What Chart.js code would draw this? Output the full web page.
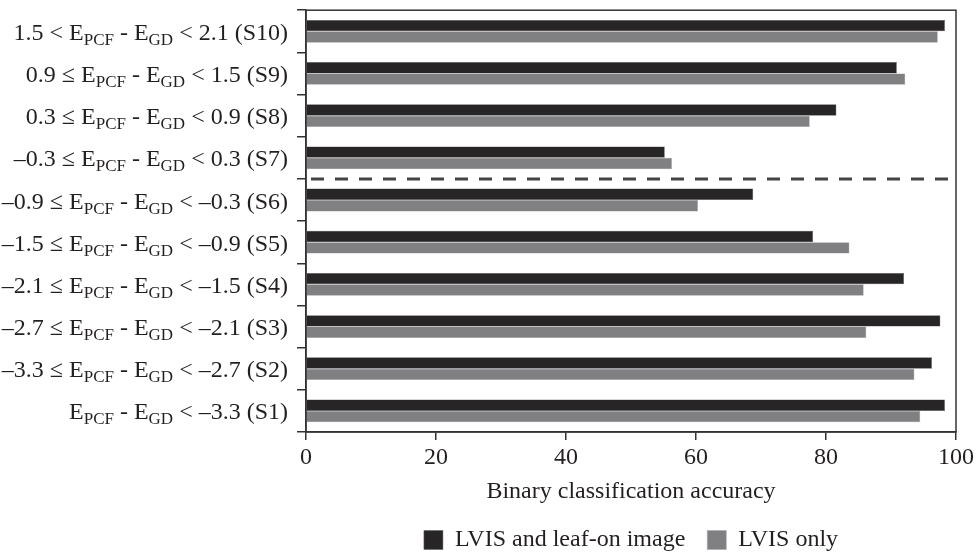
<!DOCTYPE html>
<html>
<head>
<meta charset="utf-8">
<script src="https://cdn.jsdelivr.net/npm/chart.js@4"></script>
<style>
  html, body { margin: 0; padding: 0; background: #fff; }
  #wrap { width: 977px; height: 556px; }
</style>
</head>
<body>
<div id="wrap"><canvas id="accuracyChart"></canvas></div>
<script>
// classes, top to bottom
const classCodes = ['S10', 'S9', 'S8', 'S7', 'S6', 'S5', 'S4', 'S3', 'S2', 'S1'];
const lowerBounds = ['1.5 <', '0.9 ≤', '0.3 ≤', '–0.3 ≤', '–0.9 ≤', '–1.5 ≤', '–2.1 ≤', '–2.7 ≤', '–3.3 ≤', ''];
const upperBounds = ['< 2.1', '< 1.5', '< 0.9', '< 0.3', '< –0.3', '< –0.9', '< –1.5', '< –2.1', '< –2.7', '< –3.3'];

const leafOnValues = [98.3, 90.9, 81.6, 55.2, 68.8, 78.0, 92.0, 97.6, 96.3, 98.3];
const lvisOnlyValues = [97.2, 92.2, 77.5, 56.3, 60.3, 83.6, 85.8, 86.2, 93.6, 94.5];

const xTicks = [0, 20, 40, 60, 80, 100];

const serif = '"Liberation Serif", "DejaVu Serif", serif';
const ink = '#231f20';

const fullLabels = classCodes.map((code, i) =>
  `${lowerBounds[i] ? lowerBounds[i] + ' ' : ''}EPCF - EGD ${upperBounds[i]} (${code})`);

// legend keeps its wide item gap but takes less height
const legendTrim = {
  id: 'legendTrim',
  beforeUpdate(chart) {
    const legend = chart.legend;
    if (!legend || legend._trimmed) return;
    const fit = legend.fit;
    legend.fit = function () {
      fit.call(this);
      this.height -= 6;
    };
    legend._trimmed = true;
  }
};

// draws the y labels with subscripts, the dashed divider and the frame
const figureExtras = {
  id: 'figureExtras',
  afterDraw(chart) {
    const { ctx, chartArea, scales } = chart;
    const yScale = scales.y;

    ctx.save();
    ctx.fillStyle = ink;
    ctx.textBaseline = 'alphabetic';
    const mainFont = `24px ${serif}`;
    const subFont = `17px ${serif}`;

    classCodes.forEach((code, i) => {
      const parts = [];
      parts.push({ t: (lowerBounds[i] ? lowerBounds[i] + ' ' : '') + 'E', sub: false });
      parts.push({ t: 'PCF', sub: true });
      parts.push({ t: ' - E', sub: false });
      parts.push({ t: 'GD', sub: true });
      parts.push({ t: ' ' + upperBounds[i] + ' (' + code + ')', sub: false });

      let total = 0;
      parts.forEach(p => {
        ctx.font = p.sub ? subFont : mainFont;
        p.w = ctx.measureText(p.t).width;
        total += p.w;
      });

      let x = chartArea.left - 18 - total;
      const y = yScale.getPixelForValue(i) + 8.5;
      parts.forEach(p => {
        ctx.font = p.sub ? subFont : mainFont;
        ctx.fillText(p.t, x, p.sub ? y + 5 : y);
        x += p.w;
      });
    });

    // dashed divider between S7 and S6
    const yDiv = yScale.getPixelForValue(3.5);
    ctx.strokeStyle = '#444';
    ctx.lineWidth = 3;
    ctx.setLineDash([13, 11]);
    ctx.beginPath();
    ctx.moveTo(chartArea.left + 5, yDiv);
    ctx.lineTo(chartArea.right - 2, yDiv);
    ctx.stroke();

    // plot frame
    ctx.setLineDash([]);
    ctx.strokeStyle = '#333';
    ctx.lineWidth = 1.5;
    ctx.strokeRect(chartArea.left, chartArea.top, chartArea.right - chartArea.left, chartArea.bottom - chartArea.top);
    ctx.restore();
  }
};

new Chart(document.getElementById('accuracyChart').getContext('2d'), {
  type: 'bar',
  data: {
    labels: fullLabels,
    datasets: [
      {
        label: 'LVIS and leaf-on image',
        data: leafOnValues,
        backgroundColor: '#282526',
        borderColor: '#5a5a5a',
        borderWidth: 0.5
      },
      {
        label: 'LVIS only',
        data: lvisOnlyValues,
        backgroundColor: '#808083',
        borderColor: '#a0a0a3',
        borderWidth: 0.5
      }
    ]
  },
  options: {
    indexAxis: 'y',
    responsive: true,
    maintainAspectRatio: false,
    animation: false,
    datasets: {
      bar: { categoryPercentage: 0.54, barPercentage: 1.0 }
    },
    layout: {
      padding: { top: 10, right: 21, bottom: 0, left: 0 }
    },
    scales: {
      x: {
        min: 0,
        max: 100,
        afterBuildTicks: scale => { scale.ticks = xTicks.map(v => ({ value: v })); },
        afterFit: scale => { scale.height = 74; },
        grid: { drawOnChartArea: false, tickLength: 8, color: '#333', lineWidth: 1.5 },
        border: { color: '#333', width: 1.5 },
        ticks: { color: ink, font: { family: serif, size: 24 }, padding: 3, maxRotation: 0 },
        title: {
          display: true,
          text: 'Binary classification accuracy',
          color: ink,
          font: { family: serif, size: 24 },
          padding: { top: 0, bottom: 0 }
        }
      },
      y: {
        afterFit: scale => { scale.width = 306; },
        grid: { drawOnChartArea: false, offset: true, tickLength: 9, color: '#333', lineWidth: 1.5 },
        border: { color: '#333', width: 1.5 },
        ticks: { callback: () => '' }
      }
    },
    plugins: {
      legend: {
        position: 'bottom',
        fullSize: false,
        labels: {
          color: ink,
          font: { family: serif, size: 24 },
          boxWidth: 19,
          boxHeight: 19,
          padding: 22
        }
      },
      tooltip: { enabled: true }
    }
  },
  plugins: [legendTrim, figureExtras]
});
</script>
</body>
</html>
